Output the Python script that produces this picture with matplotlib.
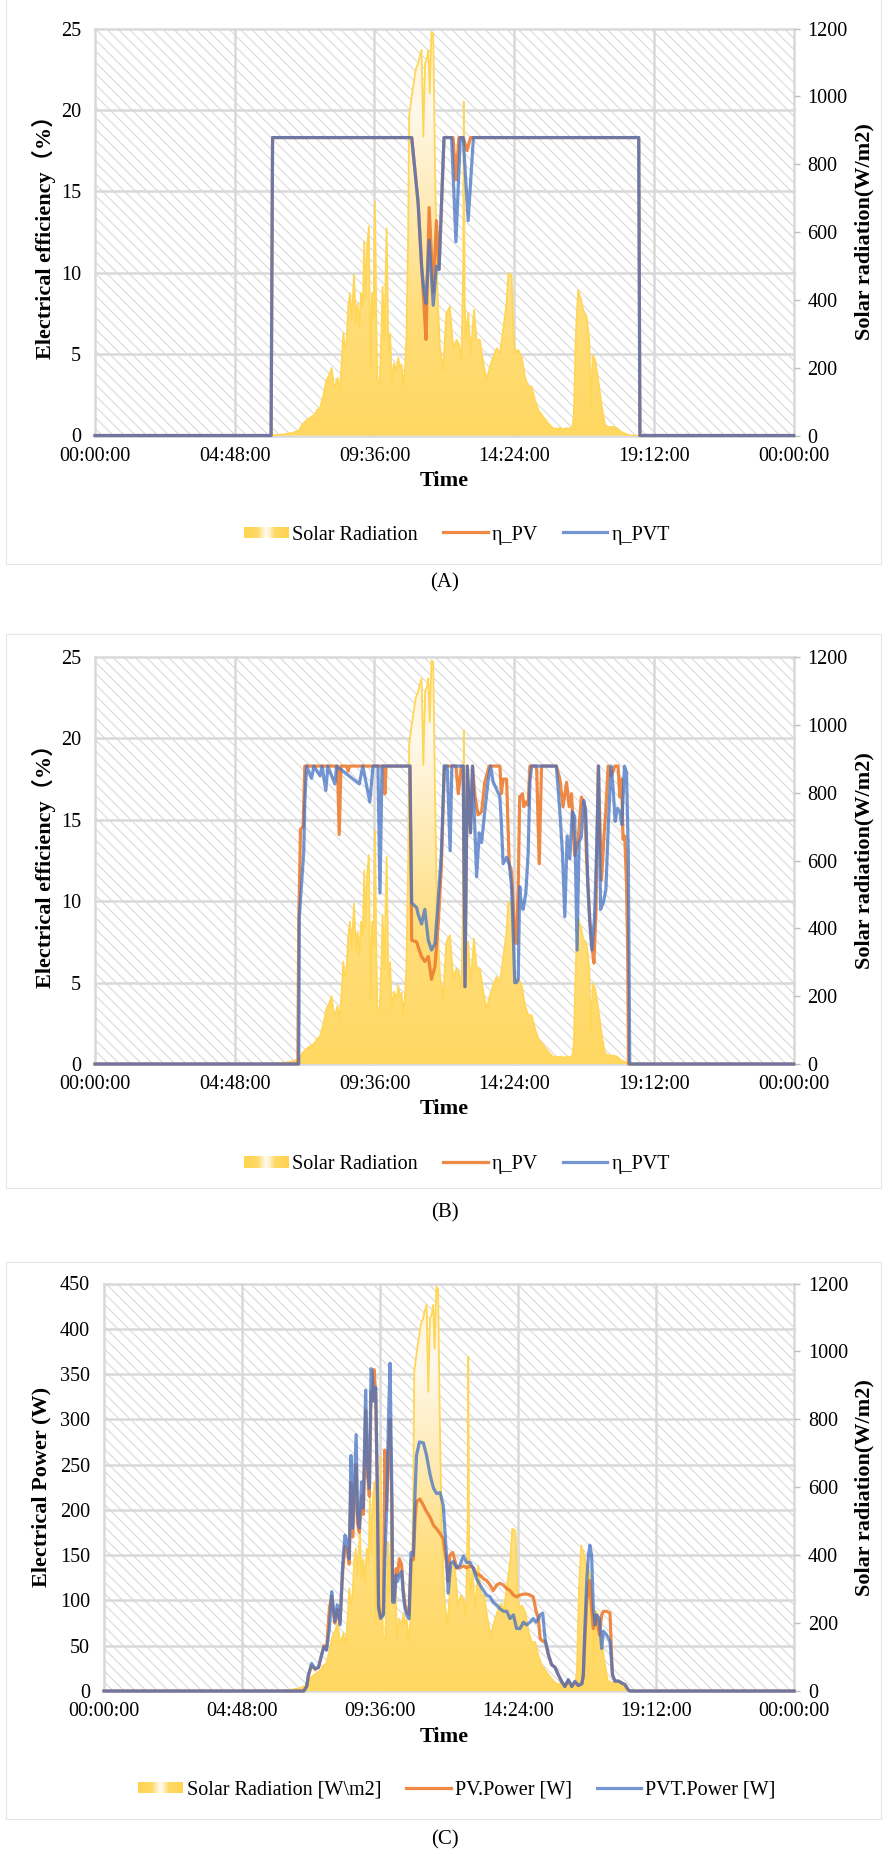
import numpy as np
import matplotlib
matplotlib.use("Agg")
import matplotlib.pyplot as plt
from matplotlib.patches import Rectangle
from matplotlib.legend_handler import HandlerBase
from matplotlib.colors import LinearSegmentedColormap

plt.rcParams["font.family"] = ["Liberation Serif", "Noto Sans CJK SC"]
plt.rcParams["hatch.linewidth"] = 0.8

# --- Data (hours of the day) ---
hours_rad = [0, 6.0, 6.45, 6.8, 7.0, 7.15, 7.27, 7.35, 7.44, 7.55, 7.63, 7.73, 7.85, 7.95, 8.03, 8.13,
             8.2, 8.24, 8.33, 8.41, 8.48, 8.53, 8.59, 8.64, 8.70, 8.76, 8.82, 8.90, 8.96, 9.02, 9.08,
             9.14, 9.20, 9.25, 9.30, 9.35, 9.41, 9.46, 9.52, 9.57, 9.62, 9.67, 9.70, 9.78, 9.84, 9.88,
             9.94, 10.02, 10.08, 10.14, 10.19, 10.27, 10.36, 10.42, 10.47, 10.53, 10.59, 10.65, 10.70,
             10.76, 10.79, 10.88, 10.93, 11.02, 11.10, 11.16, 11.22, 11.28, 11.34, 11.40, 11.45, 11.50,
             11.56, 11.62, 11.68, 11.74, 11.80, 11.85, 11.96, 12.07, 12.19, 12.31, 12.42, 12.50, 12.59,
             12.65, 12.67, 12.70, 12.74, 12.82, 12.90, 12.96, 13.02, 13.11, 13.22, 13.34, 13.45, 13.57,
             13.68, 13.80, 13.91, 14.02, 14.14, 14.20, 14.31, 14.38, 14.43, 14.54, 14.66, 14.77, 14.88,
             15.00, 15.11, 15.23, 15.40, 15.57, 15.74, 15.9, 16.0, 16.1, 16.2, 16.3, 16.40, 16.45, 16.52,
             16.60, 16.70, 16.77, 16.89, 16.98, 17.03, 17.10, 17.18, 17.29, 17.41, 17.52, 17.63, 17.81,
             17.92, 18.09, 18.38, 24]
solar_rad = [0, 0, 3, 8, 15, 35, 45, 50, 55, 62, 75, 81, 120, 163, 175, 199,
             150, 144, 170, 135, 220, 302, 260, 272, 380, 420, 340, 473, 330, 390, 320,
             420, 380, 571, 400, 560, 616, 193, 420, 350, 689, 300, 163, 155, 300, 439,
             280, 611, 250, 300, 160, 213, 193, 230, 200, 210, 144, 200, 291,
             600, 940, 1000, 1028, 1080, 1097, 1120, 1137, 881, 1097, 1110, 1137, 1009,
             1190, 1185, 800, 500, 350, 260, 193, 360, 380, 252, 282, 270, 223,
             500, 984, 400, 282, 361, 240, 300, 370, 282, 282, 213, 163, 203,
             232, 257, 240, 311, 390, 478, 472, 300, 243, 252, 230, 173, 144,
             144, 105, 75, 55, 36, 21, 20, 22, 18, 22, 20, 25, 60, 300,
             429, 400, 370, 350, 282, 85, 237, 223, 163, 85, 31, 25, 25,
             22, 10, 0, 0]

# (A) electrical efficiency
hours_a_pv = [0, 6.05, 6.10, 10.88, 11.10, 11.22, 11.30, 11.37, 11.48, 11.62, 11.73, 11.82, 11.99,
              12.30, 12.40, 12.50, 12.65, 12.78, 12.90, 18.68, 18.72, 24]
eta_pv_a = [0, 0, 18.3, 18.3, 14.3, 10.4, 8.1, 5.9, 14.0, 8.8, 13.2, 10.2, 18.3,
            18.3, 15.7, 18.3, 18.3, 17.5, 18.3, 18.3, 0, 0]
hours_a_pvt = [0, 6.05, 6.10, 10.88, 11.10, 11.22, 11.30, 11.37, 11.48, 11.62, 11.73, 11.82, 11.99,
               12.25, 12.40, 12.55, 12.65, 12.82, 13.00, 18.68, 18.72, 24]
eta_pvt_a = [0, 0, 18.3, 18.3, 14.3, 10.4, 8.9, 8.1, 12.0, 8.0, 10.4, 10.2, 18.3,
             18.3, 11.9, 18.3, 18.3, 13.2, 18.3, 18.3, 0, 0]

# (B) electrical efficiency
hours_b_pv = [0, 6.97, 7.00, 7.06, 7.15, 7.21, 8.33, 8.39, 8.45, 8.65, 8.70, 8.75, 9.93, 9.96, 10.0,
              10.82, 10.88, 11.05, 11.10, 11.22, 11.33, 11.45, 11.56, 11.68, 11.79, 11.90, 12.0,
              12.40, 12.48, 12.59, 12.65, 12.71, 12.79, 12.90, 12.97, 13.05, 13.16, 13.28, 13.39, 13.54,
              13.91, 13.96, 14.02, 14.14, 14.23, 14.31, 14.37, 14.42, 14.48, 14.54, 14.59, 14.69, 14.73,
              14.80, 14.88, 14.94, 15.17, 15.26, 15.34, 15.85, 15.97, 16.08, 16.20, 16.29, 16.37, 16.48,
              16.60, 16.71, 16.83, 16.88, 16.98, 17.06, 17.14, 17.21, 17.29, 17.40, 17.48, 17.55, 17.63,
              17.74, 17.86, 17.97, 18.03, 18.09, 18.14, 18.20, 18.26, 18.30, 18.33, 24]
eta_pv_b = [0, 0, 8.7, 14.4, 14.6, 18.3, 18.3, 14.1, 18.3, 18.3, 18.0, 18.3, 18.3, 16.6, 18.3,
            18.3, 7.6, 7.5, 7.2, 6.6, 6.3, 6.6, 5.2, 6.0, 8.6, 12.1, 18.3,
            18.3, 16.6, 18.3, 18.3, 4.75, 18.3, 14.2, 18.3, 16.5, 15.3, 15.5, 17.3, 18.3,
            18.3, 16.6, 17.5, 17.5, 12.3, 11.8, 9.7, 7.6, 7.4, 10.9, 16.4, 16.6, 15.8,
            16.1, 15.9, 18.3, 18.3, 12.3, 18.3, 18.3, 17.5, 15.8, 17.3, 15.8, 16.6, 12.8,
            13.8, 16.4, 15.8, 12.9, 9.4, 7.4, 6.2, 9.4, 18.3, 11.3, 13.8, 15.6, 18.3,
            17.7, 18.3, 18.3, 16.4, 17.5, 13.8, 14.0, 11.1, 7.0, 0, 0]
hours_b_pvt = [0, 7.00, 7.02, 7.17, 7.21, 7.27, 7.44, 7.52, 7.73, 7.80, 7.93, 8.00, 8.24, 8.30, 9.08,
               9.20, 9.44, 9.55, 9.72, 9.79, 9.86, 10.82, 10.88, 11.05, 11.10, 11.22, 11.33, 11.45,
               11.56, 11.68, 11.79, 11.90, 12.0, 12.10, 12.20, 12.26, 12.65, 12.71, 12.79, 12.90, 12.97,
               13.11, 13.20, 13.28, 13.39, 13.51, 13.59, 13.68, 13.79, 13.91, 13.96, 14.02, 14.14, 14.23,
               14.31, 14.37, 14.42, 14.48, 14.54, 14.59, 14.65, 14.71, 14.80, 14.88, 14.94, 15.0, 15.85,
               15.97, 16.06, 16.14, 16.22, 16.31, 16.40, 16.48, 16.56, 16.63, 16.71, 16.79, 16.86, 16.93,
               17.00, 17.07, 17.16, 17.23, 17.30, 17.37, 17.46, 17.55, 17.64, 17.73, 17.80, 17.87, 17.94,
               18.03, 18.10, 18.19, 18.26, 18.32, 18.37, 24]
eta_pvt_b = [0, 0, 9.05, 13.0, 16.2, 18.3, 17.55, 18.3, 17.7, 18.3, 16.8, 18.3, 17.2, 18.3, 17.2,
             18.3, 16.1, 18.3, 18.3, 10.5, 18.3, 18.3, 9.9, 9.6, 9.2, 8.6, 9.5, 7.6,
             7.0, 7.4, 10.1, 13.0, 18.3, 18.3, 13.1, 18.3, 18.3, 4.75, 18.3, 14.2, 18.3,
             11.5, 14.2, 13.6, 15.5, 17.5, 18.3, 17.3, 16.9, 16.4, 14.8, 12.3, 12.7, 12.3,
             10.9, 7.9, 5.0, 5.0, 5.2, 10.9, 9.7, 9.5, 10.5, 12.9, 17.3, 18.3, 18.3,
             15.5, 12.9, 9.05, 14.0, 12.6, 15.5, 15.2, 7.0, 13.6, 14.0, 16.2, 15.5, 11.1,
             8.6, 7.0, 9.0, 13.0, 18.3, 9.5, 9.9, 10.7, 14.9, 18.3, 16.9, 14.9, 15.7,
             15.5, 14.7, 18.3, 17.9, 13.0, 0, 0]

# (C) electrical power
hours_c_pvt = [0, 6.95, 7.05, 7.11, 7.22, 7.34, 7.46, 7.57, 7.65, 7.74, 7.84, 7.92, 7.98, 8.03, 8.11,
               8.21, 8.30, 8.38, 8.46, 8.53, 8.59, 8.65, 8.71, 8.77, 8.82, 8.88, 8.96, 9.02, 9.10, 9.16,
               9.23, 9.29, 9.33, 9.39, 9.45, 9.51, 9.55, 9.62, 9.72, 9.77, 9.83, 9.89, 9.95, 10.01, 10.04,
               10.10, 10.16, 10.21, 10.27, 10.35, 10.41, 10.47, 10.53, 10.61, 10.68, 10.76, 10.82, 10.87,
               10.97, 11.11, 11.22, 11.34, 11.46, 11.57, 11.69, 11.80, 11.92, 11.97, 12.06, 12.15, 12.27,
               12.38, 12.50, 12.61, 12.73, 12.85, 12.96, 13.08, 13.20, 13.31, 13.43, 13.54, 13.66, 13.77,
               13.89, 14.01, 14.12, 14.24, 14.35, 14.47, 14.59, 14.70, 14.82, 14.93, 15.03, 15.11, 15.17,
               15.26, 15.34, 15.46, 15.57, 15.69, 15.80, 15.92, 16.03, 16.15, 16.27, 16.38, 16.50, 16.62,
               16.67, 16.73, 16.79, 16.85, 16.90, 16.96, 17.02, 17.08, 17.14, 17.23, 17.31, 17.37, 17.48,
               17.60, 17.69, 17.77, 17.89, 18.00, 18.12, 18.24, 18.30, 24]
power_pvt_c = [0, 0, 5, 17.7, 30.5, 24.7, 26, 39.8, 48.7, 45, 69, 109.7, 91, 77, 95,
               73, 139, 172, 165, 146, 260, 180, 231, 283, 194, 180, 231, 202, 332, 253,
               224, 356, 350, 320, 335, 220, 91, 80, 84, 146, 202, 293, 362, 224, 98,
               98, 128, 121, 128, 132, 106, 91, 84, 80, 153, 150, 220, 260,
               275, 274, 260, 239, 224, 218, 219, 205, 146, 108, 141, 143, 136,
               139, 149, 142, 142, 135, 124, 117, 111, 106, 104, 98, 95, 91,
               88, 88, 80, 84, 69, 69, 76, 73, 76, 80, 76, 80, 84,
               86, 58, 40, 29, 26, 18, 10.7, 5, 12.5, 5, 10.7, 6, 8,
               18, 73, 121, 150, 161, 150, 91, 73, 84, 80, 47, 66, 62,
               55, 18, 11, 11, 9, 7, 1, 0, 0]
hours_c_pv = [0, 6.95, 7.05, 7.11, 7.22, 7.34, 7.46, 7.57, 7.65, 7.74, 7.84, 7.92, 7.98, 8.03, 8.11,
              8.21, 8.30, 8.38, 8.46, 8.53, 8.59, 8.65, 8.71, 8.77, 8.82, 8.88, 8.96, 9.02, 9.10, 9.16,
              9.23, 9.29, 9.33, 9.39, 9.45, 9.51, 9.55, 9.62, 9.72, 9.77, 9.83, 9.89, 9.95, 10.01, 10.04,
              10.10, 10.16, 10.21, 10.27, 10.35, 10.41, 10.47, 10.53, 10.61, 10.68, 10.76, 10.82, 10.87,
              10.99, 11.11, 11.22, 11.34, 11.46, 11.57, 11.69, 11.80, 11.92, 11.97, 12.03, 12.13, 12.27,
              12.38, 12.50, 12.61, 12.73, 12.85, 12.96, 13.08, 13.20, 13.31, 13.43, 13.54, 13.66, 13.77,
              13.89, 14.01, 14.12, 14.24, 14.35, 14.47, 14.59, 14.70, 14.82, 14.93, 15.03, 15.11, 15.17,
              15.26, 15.34, 15.46, 15.57, 15.69, 15.80, 15.92, 16.03, 16.15, 16.27, 16.38, 16.50, 16.62,
              16.67, 16.73, 16.79, 16.88, 16.96, 17.02, 17.08, 17.14, 17.23, 17.31, 17.37, 17.48,
              17.60, 17.68, 17.77, 17.89, 18.00, 18.12, 18.24, 18.30, 24]
power_pv_c = [0, 0, 5, 17, 28, 24, 26, 40, 50, 46, 91, 105, 86, 75, 90,
              75, 130, 160, 155, 140, 230, 170, 215, 250, 185, 175, 215, 195, 310, 240,
              215, 330, 320, 355, 330, 210, 95, 82, 86, 266, 200, 260, 300, 210, 100,
              105, 135, 128, 146, 140, 112, 95, 88, 84, 145, 145, 190, 209,
              212, 205, 198, 192, 183, 179, 174, 168, 139, 121, 150, 153, 136,
              136, 138, 136, 138, 136, 129, 128, 124, 122, 117, 111, 117, 119,
              117, 113, 111, 106, 104, 106, 107, 107, 106, 104, 88, 80, 58,
              55, 55, 40, 29, 26, 18, 10, 5, 12, 5, 10, 6, 8,
              15, 60, 100, 122, 91, 69, 84, 80, 62, 84, 88, 88,
              86, 18, 11, 11, 9, 7, 1, 0, 0]

time_ticks = [0, 4.8, 9.6, 14.4, 19.2, 24]
time_labels = ["00:00:00", "04:48:00", "09:36:00", "14:24:00", "19:12:00", "00:00:00"]
rad_ticks = [0, 200, 400, 600, 800, 1000, 1200]

PV_COLOR = "#ED7D31"
PVT_COLOR = "#4472C4"
GRID = "#D9D9D9"
TICK_FS = 14.5
LABEL_FS = 16

W, H = 889, 1854
fig = plt.figure(figsize=(W / 100, H / 100), dpi=100)

rad_cmap = LinearSegmentedColormap.from_list(
    "rad", [(0.0, "#FFD862"), (0.3, "#FFDD78"), (0.55, "#FFEAB2"), (0.8, "#FFF8EA"), (1.0, "#FFF3D6")])
swatch_cmap = LinearSegmentedColormap.from_list(
    "swatch", [(0.0, "#FFD34F"), (0.3, "#FFD966"), (0.5, "#FFFCF5"), (0.7, "#FFD966"), (1.0, "#FFD34F")])


class RadSwatch:
    pass


class GradientHandler(HandlerBase):
    # yellow - white - yellow swatch like the Excel gradient fill
    def create_artists(self, legend, orig_handle, xdescent, ydescent, width, height, fontsize, trans):
        n = 40
        h = height * 0.8
        y0 = -ydescent + (height - h) / 2
        arts = []
        for i in range(n):
            arts.append(Rectangle((-xdescent + i * width / n, y0), width / n + 0.2, h,
                                  facecolor=swatch_cmap((i + 0.5) / n), edgecolor="none",
                                  linewidth=0, transform=trans))
        return arts


def px_box(left, top, right, bottom):
    return [left / W, 1 - bottom / H, (right - left) / W, (bottom - top) / H]


def panel(box, ylim, yticks, ylabel, t_pv, y_pv, t_pvt, y_pvt, labels, ylabel_x, legend_y, time_y, tag, tag_y, frame):
    # chart area border
    fig.patches.append(Rectangle((frame[0] / W, 1 - frame[3] / H), (frame[2] - frame[0]) / W,
                                 (frame[3] - frame[1]) / H, transform=fig.transFigure,
                                 facecolor="none", edgecolor="#E6E6E6", lw=0.8))

    # background: hatch + grid on the left scale
    ax = fig.add_axes(box)
    ax.set_xlim(0, 24)
    ax.set_ylim(*ylim)
    ax.patch.set_facecolor("white")
    ax.patch.set_hatch("\\\\\\")
    ax.patch.set_edgecolor("#DADADA")
    ax.patch.set_linewidth(0)
    ax.set_xticks(time_ticks)
    ax.set_xticklabels(time_labels)
    ax.set_yticks(yticks)
    ax.grid(True, color=GRID, lw=1.8, clip_on=False)
    for s in ax.spines.values():
        s.set_visible(False)
    ax.tick_params(axis="y", length=0, pad=10, labelsize=TICK_FS)
    ax.tick_params(axis="x", length=0, pad=8, labelsize=TICK_FS)

    # solar radiation on the right scale
    ax2 = ax.twinx()
    ax2.set_ylim(0, 1200)
    ax2.set_yticks(rad_ticks)
    for s in ax2.spines.values():
        s.set_visible(False)
    ax2.tick_params(axis="y", length=4, width=1, color="#BFBFBF", pad=6, labelsize=TICK_FS)
    poly = ax2.fill_between(hours_rad, solar_rad, 0, facecolor="none", edgecolor="none")
    grad = np.linspace(0, 1, 256).reshape(-1, 1)
    im = ax2.imshow(grad, cmap=rad_cmap, extent=(0, 24, 0, 1200), origin="lower", aspect="auto",
                    zorder=1, interpolation="bilinear")
    im.set_clip_path(poly.get_paths()[0], transform=ax2.transData)
    ax2.plot(hours_rad, solar_rad, color="#FFD658", lw=1.3, zorder=2)
    ax2.set_xlim(0, 24)
    ax2.set_ylim(0, 1200)

    # efficiency / power lines on top
    ax3 = fig.add_axes(box, sharex=ax, sharey=ax)
    ax3.axis("off")
    ax3.plot(t_pv, y_pv, color=PV_COLOR, lw=2.3, alpha=0.9, clip_on=False)
    ax3.plot(t_pvt, y_pvt, color=PVT_COLOR, lw=2.3, alpha=0.75, clip_on=False)

    # labels
    ymid = box[1] + box[3] / 2
    fig.text(ylabel_x / W, ymid, ylabel, rotation=90, ha="center", va="center",
             fontsize=LABEL_FS, fontweight="bold")
    fig.text(864.5 / W, ymid, "Solar radiation(W/m2)", rotation=90, ha="center", va="center",
             fontsize=LABEL_FS, fontweight="bold")
    fig.text(444.5 / W, 1 - time_y / H, "Time", ha="center", va="center", fontsize=LABEL_FS,
             fontweight="bold")

    handles = [RadSwatch(),
               plt.Line2D([], [], color=PV_COLOR, lw=2.3, alpha=0.9),
               plt.Line2D([], [], color=PVT_COLOR, lw=2.3, alpha=0.75)]
    fig.legend(handles, labels, loc="center", bbox_to_anchor=(457 / W, 1 - legend_y / H),
               bbox_transform=fig.transFigure, ncol=3, frameon=False, fontsize=14.5,
               handler_map={RadSwatch: GradientHandler()}, handlelength=2.2, handleheight=0.7,
               handletextpad=0.2, columnspacing=1.25)
    fig.text(444.5 / W, 1 - tag_y / H, tag, ha="center", va="center", fontsize=15)


eff_ticks = [0, 5, 10, 15, 20, 25]
pow_ticks = [0, 50, 100, 150, 200, 250, 300, 350, 400, 450]

panel(px_box(95, 28.5, 793.6, 435.5), (0, 25), eff_ticks, "Electrical efficiency（%）",
      hours_a_pv, eta_pv_a, hours_a_pvt, eta_pvt_a,
      ["Solar Radiation", "η_PV", "η_PVT"], 44, 535, 481, "(A)", 583, (6, -2, 881, 564))
panel(px_box(95, 657, 793.6, 1064), (0, 25), eff_ticks, "Electrical efficiency（%）",
      hours_b_pv, eta_pv_b, hours_b_pvt, eta_pvt_b,
      ["Solar Radiation", "η_PV", "η_PVT"], 44, 1164.5, 1109, "(B)", 1213, (6, 634, 881, 1188))
panel(px_box(104, 1283.5, 794, 1691), (0, 450), pow_ticks, "Electrical Power (W)",
      hours_c_pv, power_pv_c, hours_c_pvt, power_pvt_c,
      ["Solar Radiation [W\\m2]", "PV.Power [W]", "PVT.Power [W]"], 41, 1790, 1736.5, "(C)", 1840,
      (6, 1262, 881, 1819))

fig.savefig("out.png", dpi=100)
